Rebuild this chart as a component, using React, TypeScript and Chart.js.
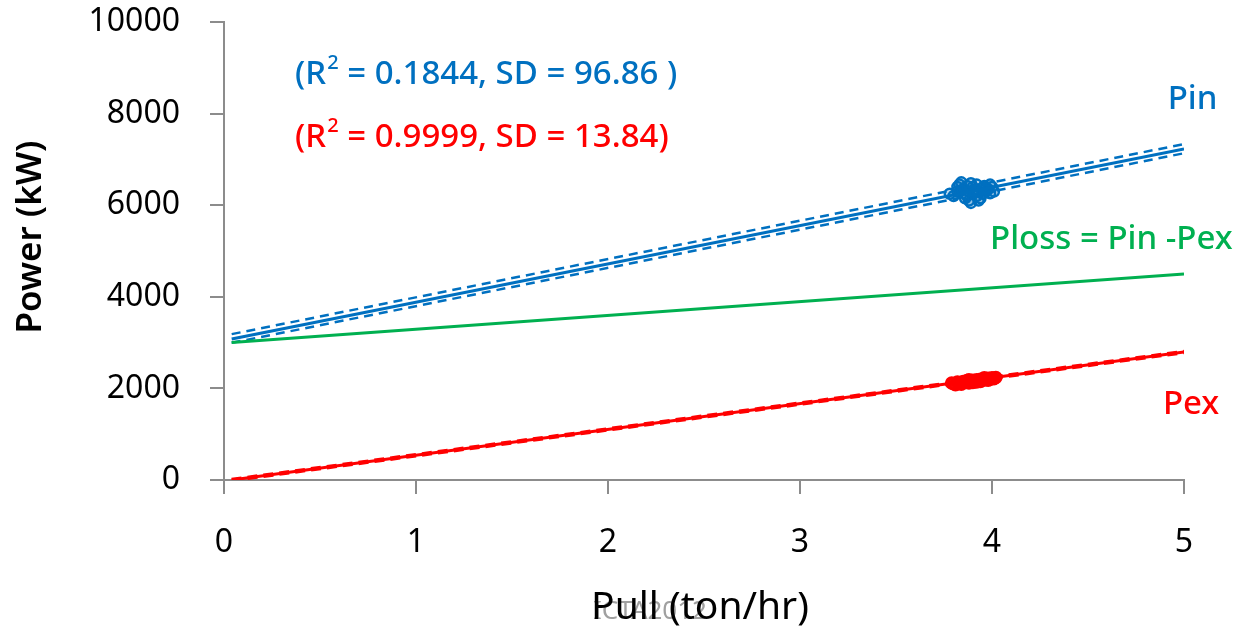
import React, { useEffect, useRef } from "react";
import { Chart, registerables } from "chart.js";

Chart.register(...registerables);

const FONT = "'Noto Sans', 'DejaVu Sans', sans-serif";
const BLUE = "#0070C0";
const RED = "#FF0000";
const GREEN = "#00B050";
const AXIS = "#8c8c8c";

// Tick values
const xTicks = [0, 1, 2, 3, 4, 5];
const yTicks = [0, 2000, 4000, 6000, 8000, 10000];

// Fitted lines (x: Pull ton/hr, y: Power kW)
const pinFitX = [0.04, 5];
const pinFitY = [3080, 7230];
const pinUpperY = [3185, 7335];
const pinLowerY = [2995, 7135];
const plossX = [0.04, 5];
const plossY = [3000, 4500];
const pexFitX = [0.04, 5];
const pexFitY = [0, 2795];

// Measured data clusters
const pinDataX = [3.78, 3.8, 3.82, 3.83, 3.84, 3.85, 3.86, 3.87, 3.88, 3.88, 3.89, 3.9, 3.9, 3.91, 3.92, 3.92, 3.93, 3.94, 3.95, 3.95, 3.96, 3.97, 3.98, 3.99, 4.0, 4.01, 3.86, 3.89, 3.84, 3.93, 3.87, 3.91, 3.96, 3.82, 3.99];
const pinDataY = [6250, 6200, 6300, 6450, 6500, 6350, 6150, 6420, 6300, 6100, 6050, 6250, 6400, 6350, 6200, 6450, 6300, 6150, 6380, 6250, 6420, 6300, 6350, 6450, 6400, 6300, 6250, 6480, 6320, 6100, 6200, 6280, 6330, 6400, 6260];
const pexDataX = [3.79, 3.8, 3.82, 3.83, 3.85, 3.86, 3.87, 3.88, 3.89, 3.9, 3.91, 3.92, 3.93, 3.94, 3.95, 3.96, 3.97, 3.98, 3.99, 4.0, 4.01, 4.02, 3.84, 3.88, 3.92, 3.96, 3.81, 3.9, 3.94, 3.98];
const pexDataY = [2120, 2100, 2140, 2110, 2150, 2130, 2170, 2120, 2160, 2180, 2150, 2190, 2170, 2200, 2180, 2210, 2190, 2220, 2200, 2230, 2210, 2240, 2090, 2190, 2140, 2230, 2080, 2130, 2150, 2180];

const zip = (xs: number[], ys: number[]) => xs.map((x, i) => ({ x, y: ys[i] }));

const textPlugin = {
  id: "texts",
  afterDraw(chart: any) {
    const ctx = chart.ctx as CanvasRenderingContext2D;
    const xs = chart.scales.x;
    const ys = chart.scales.y;
    const px = (v: number) => xs.getPixelForValue(v);
    const py = (v: number) => ys.getPixelForValue(v);
    ctx.save();
    ctx.textBaseline = "middle";
    ctx.textAlign = "left";

    const rText = (x: number, y: number, r2: string, sd: string, color: string) => {
      ctx.fillStyle = color;
      ctx.font = `500 33px ${FONT}`;
      let cx = x;
      ctx.fillText("(R", cx, y);
      cx += ctx.measureText("(R").width;
      ctx.font = `500 20px ${FONT}`;
      ctx.fillText("2", cx + 1, y - 12);
      cx += ctx.measureText("2").width + 1;
      ctx.font = `500 33px ${FONT}`;
      ctx.fillText(` = ${r2}, SD = ${sd}`, cx, y);
    };
    rText(px(0.37), py(8843), "0.1844", "96.86 )", BLUE);
    rText(px(0.37), py(7467), "0.9999", "13.84)", RED);

    ctx.font = `500 33px ${FONT}`;
    ctx.fillStyle = BLUE;
    ctx.fillText("Pin", px(4.915), py(8297));
    ctx.fillStyle = GREEN;
    ctx.fillText("Ploss = Pin -Pex", px(3.99), py(5240));
    ctx.fillStyle = RED;
    ctx.fillText("Pex", px(4.89), py(1638));

    // watermark
    ctx.font = `26px ${FONT}`;
    ctx.fillStyle = "#a0a0a0";
    ctx.textAlign = "left";
    ctx.fillText("ICTA2012", 593, 612);

    // axis titles
    ctx.fillStyle = "#000";
    ctx.font = `39px ${FONT}`;
    ctx.textAlign = "center";
    ctx.fillText("Pull (ton/hr)", 700, 608);

    ctx.save();
    ctx.translate(31, 237);
    ctx.rotate(-Math.PI / 2);
    ctx.font = `600 35px ${FONT}`;
    ctx.fillText("Power (kW)", 0, 0);
    ctx.restore();

    ctx.restore();
  },
};

export default function App() {
  const ref = useRef<HTMLCanvasElement | null>(null);
  useEffect(() => {
    if (!ref.current) return;
    const lineDs = (label: string, data: any[], color: string, width: number, dash: number[] = []) => ({
      label,
      data,
      showLine: true,
      borderColor: color,
      backgroundColor: color,
      borderWidth: width,
      borderDash: dash,
      pointRadius: 0,
      fill: false,
      tension: 0,
    });
    const chart = new Chart(ref.current, {
      type: "scatter",
      data: {
        datasets: [
          lineDs("Ploss", zip(plossX, plossY), GREEN, 3),
          lineDs("Pin upper", zip(pinFitX, pinUpperY), BLUE, 2.5, [9, 6]),
          lineDs("Pin lower", zip(pinFitX, pinLowerY), BLUE, 2.5, [9, 6]),
          lineDs("Pin", zip(pinFitX, pinFitY), BLUE, 3),
          lineDs("Pex", zip(pexFitX, pexFitY), RED, 3),
          lineDs("Pex dash", zip(pexFitX, pexFitY), RED, 4.5, [10, 6]),
          {
            label: "Pin data",
            data: zip(pinDataX, pinDataY),
            pointRadius: 5,
            pointBorderWidth: 2.5,
            borderColor: BLUE,
            backgroundColor: "rgba(0,112,192,0.25)",
          },
          {
            label: "Pex data",
            data: zip(pexDataX, pexDataY),
            pointRadius: 5.5,
            pointBorderWidth: 2.5,
            borderColor: RED,
            backgroundColor: "rgba(255,0,0,0.7)",
          },
        ],
      },
      options: {
        animation: false,
        responsive: false,
        maintainAspectRatio: false,
        layout: { padding: { top: 22, right: 59, left: 0, bottom: 0 } },
        plugins: { legend: { display: false }, tooltip: { enabled: false } },
        scales: {
          x: {
            type: "linear",
            min: 0,
            max: 5,
            afterBuildTicks: (s: any) => {
              s.ticks = xTicks.map((v) => ({ value: v }));
            },
            afterFit: (s: any) => {
              s.height = 152;
              s.paddingLeft = 0;
              s.paddingRight = 0;
            },
            ticks: { font: { family: FONT, size: 32 }, color: "#000", padding: 30, callback: (v: any) => String(v) },
            grid: { display: true, drawOnChartArea: false, drawTicks: true, tickLength: 14, color: AXIS, lineWidth: 2 },
            border: { display: true, color: AXIS, width: 2 },
          },
          y: {
            type: "linear",
            min: 0,
            max: 10000,
            afterBuildTicks: (s: any) => {
              s.ticks = yTicks.map((v) => ({ value: v }));
            },
            afterFit: (s: any) => {
              s.width = 224;
              s.paddingTop = 0;
              s.paddingBottom = 0;
            },
            ticks: { font: { family: FONT, size: 32 }, color: "#000", padding: 30, callback: (v: any) => String(v) },
            grid: { display: true, drawOnChartArea: false, drawTicks: true, tickLength: 14, color: AXIS, lineWidth: 2 },
            border: { display: true, color: AXIS, width: 2 },
          },
        },
      },
      plugins: [textPlugin],
    } as any);
    return () => chart.destroy();
  }, []);
  return (
    <div style={{ position: "absolute", left: 0, top: 0, width: 1243, height: 632, background: "#fff" }}>
      <canvas ref={ref} width={1243} height={632} style={{ display: "block" }} />
    </div>
  );
}
